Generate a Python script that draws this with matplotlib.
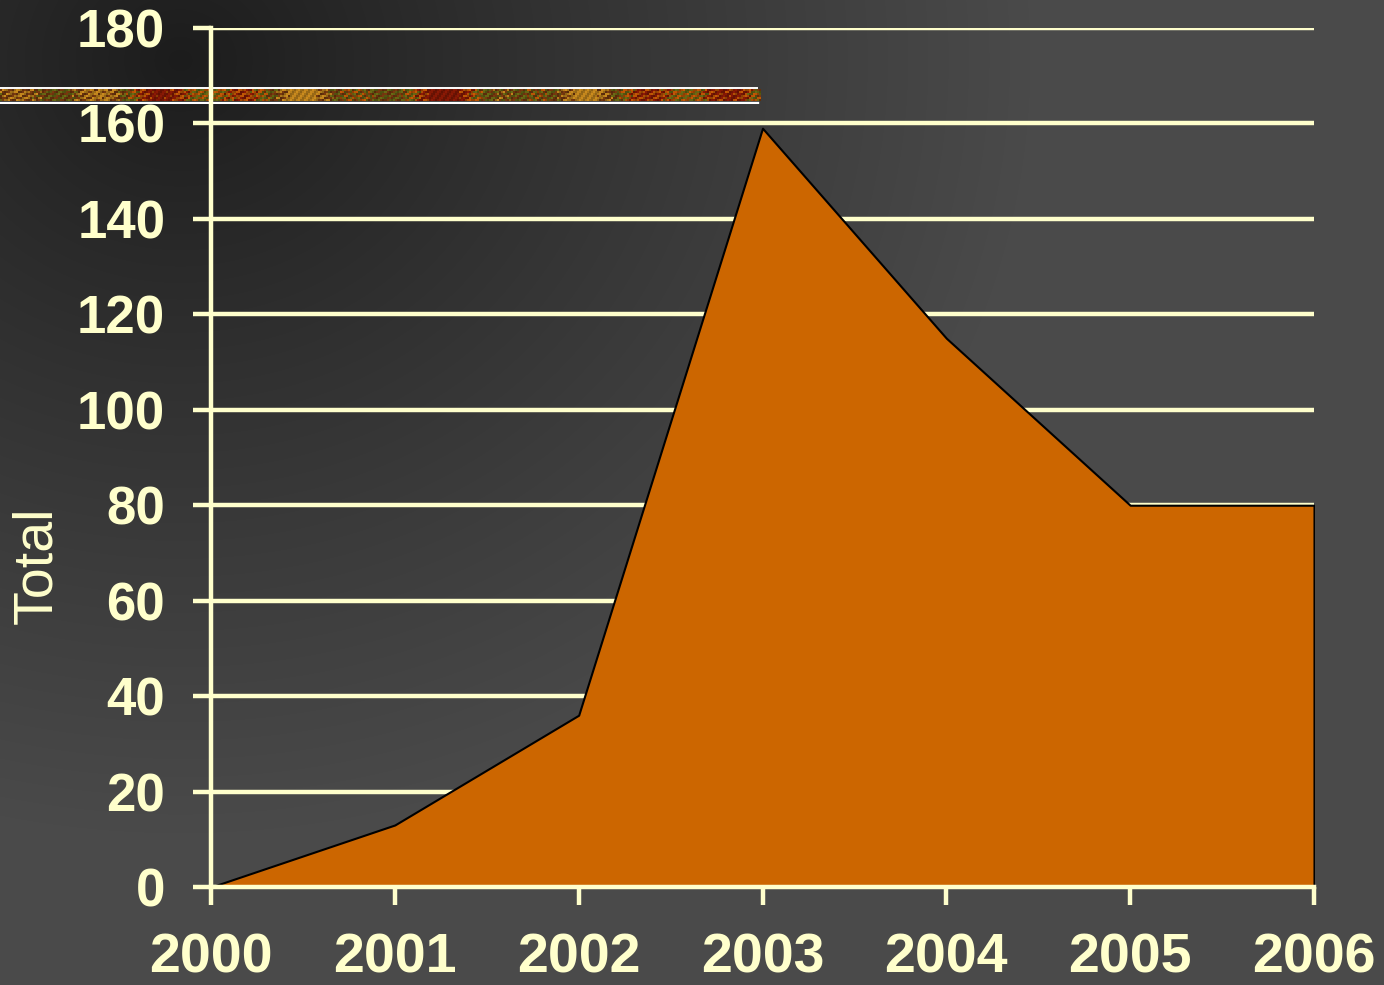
import numpy as np
import matplotlib
matplotlib.use("Agg")
import matplotlib.pyplot as plt

# yearly totals
years = [2000, 2001, 2002, 2003, 2004, 2005, 2006]
totals = [0, 13, 36, 159, 115, 80, 80]
y_ticks = [0, 20, 40, 60, 80, 100, 120, 140, 160, 180]

cream = "#FFFFCC"
fill_color = "#CC6600"

plt.rcParams['font.family'] = ['Liberation Sans', 'DejaVu Sans']

W, H = 1384, 985
fig = plt.figure(figsize=(W / 100, H / 100), dpi=100)

# dark radial backdrop, darkest near the top left
bg = fig.add_axes([0, 0, 1, 1], zorder=-10)
yy, xx = np.mgrid[0:H, 0:W]
r = np.hypot(xx - 180, (yy - 60) * 1.1)
shade = np.clip(r / 850.0, 0, 1) ** 0.9
lvl = (0x1c + (0x4a - 0x1c) * shade) / 255.0
bg.imshow(np.dstack([lvl, lvl, lvl]), extent=[0, W, H, 0], aspect="auto")
bg.set_axis_off()

# decorative strip under the top of the plot
strip = fig.add_axes([0, 1 - 104 / H, 761 / W, 18 / H], zorder=-5)
cols = 380
xs = np.arange(cols)
rows = np.arange(6)[:, None]
palette = np.array([
    [0.55, 0.10, 0.02],
    [0.78, 0.35, 0.02],
    [0.42, 0.42, 0.08],
    [0.48, 0.23, 0.06],
    [0.80, 0.55, 0.12],
])
idx = (np.sin(xs * 0.05) * 1.6 + np.sin(xs * 0.13 + 1.0) * 1.2
       + np.sin(xs[None, :] * 0.9 + rows * 2.3) * 0.8 + 2.5)
idx = np.clip(idx.astype(int), 0, 4)
tex = palette[idx]
tex *= (0.85 + 0.15 * np.sin(xs[None, :] * 1.7 + rows * 1.3))[..., None]
strip.imshow(np.clip(tex, 0, 1), extent=[0, 761, 101, 89], aspect="auto",
             interpolation="nearest")
strip.plot([0, 757], [87.5, 87.5], color="white", lw=1.4)
strip.plot([0, 757], [102.5, 102.5], color="white", lw=2.4)
strip.set_xlim(0, 761)
strip.set_ylim(104, 86)
strip.set_axis_off()

ax = fig.add_axes([211 / W, 1 - 887 / H, (1314 - 211) / W, (887 - 28) / H])
ax.set_facecolor("none")
ax.fill_between(years, totals, 0, facecolor=fill_color, edgecolor="black",
                linewidth=1.5, zorder=1)

ax.set_xlim(2000, 2006)
ax.set_ylim(0, 180)
ax.set_xticks(years)
ax.set_yticks(y_ticks)
ax.set_axisbelow(True)
ax.yaxis.grid(True, color=cream, linewidth=3.2)
ax.xaxis.grid(False)

for side in ["top", "right"]:
    ax.spines[side].set_visible(False)
for side in ["left", "bottom"]:
    ax.spines[side].set_color(cream)
    ax.spines[side].set_linewidth(3.2)
    ax.spines[side].set_zorder(3)

ax.tick_params(axis="both", colors=cream, width=3.2, length=13, direction="out")
ax.tick_params(axis="x", labelsize=40, pad=20)
ax.tick_params(axis="y", labelsize=38, pad=20)
for lab in ax.get_xticklabels() + ax.get_yticklabels():
    lab.set_fontweight("bold")
    lab.set_color(cream)

fig.text(37 / W, 1 - 565 / H, "Total", rotation=90, ha="center", va="center",
         color=cream, fontsize=40)

fig.savefig("out.png", dpi=100)
